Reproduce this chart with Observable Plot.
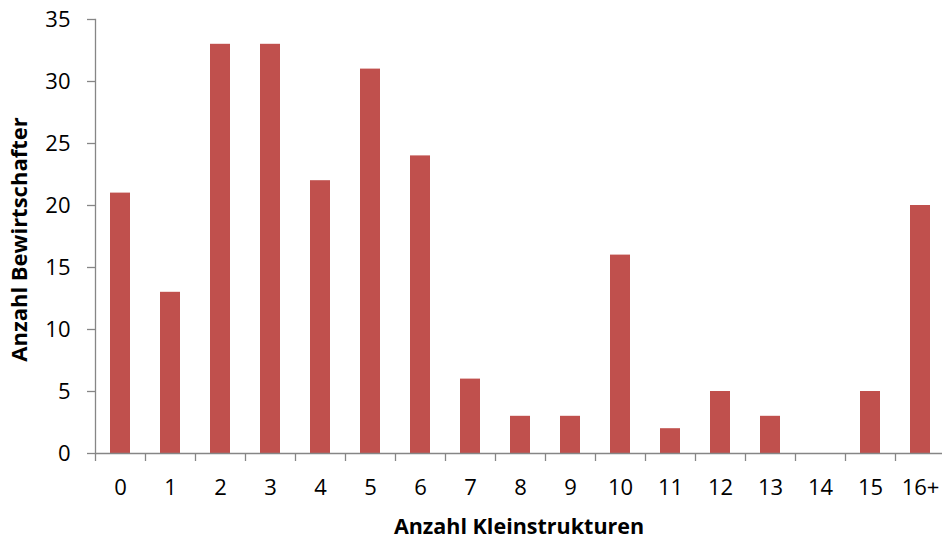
<!DOCTYPE html>
<html>
<head>
<meta charset="utf-8">
<script src="https://cdn.jsdelivr.net/npm/d3@7"></script>
<script src="https://cdn.jsdelivr.net/npm/@observablehq/plot@0.6"></script>
<style>
  html, body { margin: 0; padding: 0; background: #fff; }
  #chart svg { display: block; }
</style>
</head>
<body>
<div id="chart"></div>
<script>
// Number of small structures per farm (categories) and how many farmers fall in each
const categories = ["0","1","2","3","4","5","6","7","8","9","10","11","12","13","14","15","16+"];
const counts = [21, 13, 33, 33, 22, 31, 24, 6, 3, 3, 16, 2, 5, 3, 0, 5, 20];
const yTicks = [0, 5, 10, 15, 20, 25, 30, 35];
const xTitle = "Anzahl Kleinstrukturen";
const yTitle = "Anzahl Bewirtschafter";

const data = categories.map((c, i) => ({category: c, count: counts[i]}));

const axisColor = "#868686";
const barColor = "#C0504D";
const font = "'Open Sans', sans-serif";

const width = 942, height = 540;
const marginLeft = 95, marginTop = 19, marginBottom = 87;
const step = 50; // band step in px

const chart = Plot.plot({
  width, height,
  marginLeft, marginTop, marginBottom, marginRight: 0,
  style: {fontFamily: font, fontSize: "22px", color: "#000", background: "#fff"},
  x: {domain: categories, range: [marginLeft, marginLeft + step * categories.length], paddingInner: 0.6, paddingOuter: 0.3},
  y: {domain: [0, 35]},
  marks: [
    Plot.barY(data, {x: "category", y: "count", fill: barColor}),
    // axis lines
    Plot.frame({anchor: "left", stroke: axisColor, strokeWidth: 1.3}),
    Plot.ruleY([0], {stroke: axisColor, strokeWidth: 1.3}),
    // category boundary ticks below the x axis
    Plot.ruleX(categories, {x: d => d, y1: 0, y2: 0, dx: -step / 2, insetBottom: -8, stroke: axisColor, strokeWidth: 1.3}),
    Plot.axisY({ticks: yTicks, tickSize: 8, tickPadding: 17, stroke: axisColor, strokeWidth: 1.3, fill: "#000", label: null, fontSize: 22}),
    Plot.axisX({tickSize: 0, tickPadding: 26, fill: "#000", label: null, fontSize: 22}),
    Plot.text([yTitle], {frameAnchor: "left", textAnchor: "middle", rotate: -90, dx: -76, dy: 3, fontWeight: "bold", fontSize: 22, fill: "#000"}),
    Plot.text([xTitle], {frameAnchor: "bottom", dy: 80, fontWeight: "bold", fontSize: 21.5, fill: "#000"})
  ]
});

document.getElementById("chart").appendChild(chart);
</script>
</body>
</html>
